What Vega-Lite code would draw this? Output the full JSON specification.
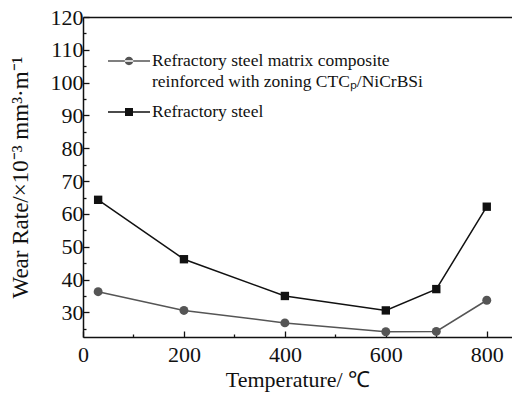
{
  "$schema": "https://vega.github.io/schema/vega-lite/v6.json",
  "width": 429,
  "height": 320,
  "autosize": {"type": "none"},
  "padding": {"left": 83, "top": 17, "right": 0, "bottom": 59},
  "background": "white",
  "config": {
    "view": {"stroke": null},
    "font": "Liberation Serif",
    "axis": {
      "labelFont": "Liberation Serif",
      "titleFont": "Liberation Serif",
      "labelFontSize": 22,
      "titleFontSize": 22,
      "labelColor": "#111",
      "titleColor": "#111",
      "titleFontWeight": "normal",
      "domainColor": "#111",
      "domainWidth": 1.5,
      "tickColor": "#111",
      "tickWidth": 1.3,
      "grid": false,
      "labelOverlap": false
    }
  },
  "data": {
    "values": [
      {"temp": 30, "rate": 36.3, "series": "Refractory steel matrix composite reinforced with zoning CTCp/NiCrBSi"},
      {"temp": 200, "rate": 30.6, "series": "Refractory steel matrix composite reinforced with zoning CTCp/NiCrBSi"},
      {"temp": 400, "rate": 26.8, "series": "Refractory steel matrix composite reinforced with zoning CTCp/NiCrBSi"},
      {"temp": 600, "rate": 24.1, "series": "Refractory steel matrix composite reinforced with zoning CTCp/NiCrBSi"},
      {"temp": 700, "rate": 24.2, "series": "Refractory steel matrix composite reinforced with zoning CTCp/NiCrBSi"},
      {"temp": 800, "rate": 33.7, "series": "Refractory steel matrix composite reinforced with zoning CTCp/NiCrBSi"},
      {"temp": 30, "rate": 64.3, "series": "Refractory steel"},
      {"temp": 200, "rate": 46.2, "series": "Refractory steel"},
      {"temp": 400, "rate": 35.0, "series": "Refractory steel"},
      {"temp": 600, "rate": 30.6, "series": "Refractory steel"},
      {"temp": 700, "rate": 37.1, "series": "Refractory steel"},
      {"temp": 800, "rate": 62.2, "series": "Refractory steel"}
    ]
  },
  "resolve": {"axis": {"x": "independent", "y": "independent"}},
  "layer": [
    {
      "mark": {"type": "line", "strokeWidth": 1.5},
      "encoding": {
        "x": {
          "field": "temp", "type": "quantitative",
          "scale": {"domain": [0, 850], "nice": false, "zero": false},
          "axis": {
            "orient": "bottom",
            "title": "Temperature/ ℃",
            "values": [0, 200, 400, 600, 800],
            "tickSize": -6,
            "labelPadding": 13,
            "titlePadding": 4,
            "labelFlush": false
          }
        },
        "y": {
          "field": "rate", "type": "quantitative",
          "scale": {"domain": [22.5, 120], "nice": false, "zero": false},
          "axis": {
            "orient": "left",
            "title": "Wear Rate/×10⁻³ mm³·m⁻¹",
            "titleFontSize": 23,
            "values": [30, 40, 50, 60, 70, 80, 90, 100, 110, 120],
            "tickSize": -6,
            "labelPadding": 6,
            "titlePadding": 18
          }
        },
        "color": {
          "field": "series", "type": "nominal",
          "scale": {
            "domain": ["Refractory steel matrix composite reinforced with zoning CTCp/NiCrBSi", "Refractory steel"],
            "range": ["#555555", "#111111"]
          },
          "legend": {
            "title": null,
            "orient": "none",
            "legendX": 25,
            "legendY": 23,
            "padding": 0,
            "symbolSize": 1764,
            "symbolStrokeWidth": 0,
            "labelFont": "Liberation Serif",
            "labelFontSize": 17.5,
            "labelColor": "#111",
            "labelLimit": 500,
            "labelOffset": 2,
            "rowPadding": -2,
            "labelExpr": "datum.label === 'Refractory steel' ? datum.label : ['Refractory steel matrix composite', 'reinforced with zoning CTCₚ/NiCrBSi']",
            "encode": {
              "symbols": {
                "update": {
                  "shape": {"signal": "datum.value === 'Refractory steel' ? 'M-1,-0.035H1V0.035H-1Z M-0.19,-0.19H0.19V0.19H-0.19Z' : 'M-1,-0.035H1V0.035H-1Z M-0.2,0 A0.2,0.2 0 1,0 0.2,0 A0.2,0.2 0 1,0 -0.2,0 Z'"},
                  "fill": {"signal": "datum.value === 'Refractory steel' ? '#111111' : '#555555'"},
                  "strokeWidth": {"value": 0},
                  "opacity": {"value": 1}
                }
              },
              "labels": {
                "update": {
                  "lineHeight": {"value": 21}
                }
              }
            }
          }
        }
      }
    },
    {
      "transform": [{"filter": "datum.series !== 'Refractory steel'"}],
      "mark": {"type": "point", "shape": "circle", "filled": true, "size": 80, "color": "#555555", "opacity": 1},
      "encoding": {
        "x": {"field": "temp", "type": "quantitative",
          "axis": {"orient": "bottom", "values": [100, 300, 500, 700], "tickSize": -3, "labels": false, "title": null, "domain": false}},
        "y": {"field": "rate", "type": "quantitative",
          "axis": {"orient": "left", "values": [25, 35, 45, 55, 65, 75, 85, 95, 105, 115], "tickSize": -3, "labels": false, "title": null, "domain": false}}
      }
    },
    {
      "transform": [{"filter": "datum.series === 'Refractory steel'"}],
      "mark": {"type": "point", "shape": "square", "filled": true, "size": 70, "color": "#111111", "opacity": 1},
      "encoding": {
        "x": {"field": "temp", "type": "quantitative",
          "axis": {"orient": "top", "labels": false, "ticks": false, "title": null, "domain": true}},
        "y": {"field": "rate", "type": "quantitative", "axis": null}
      }
    }
  ]
}
